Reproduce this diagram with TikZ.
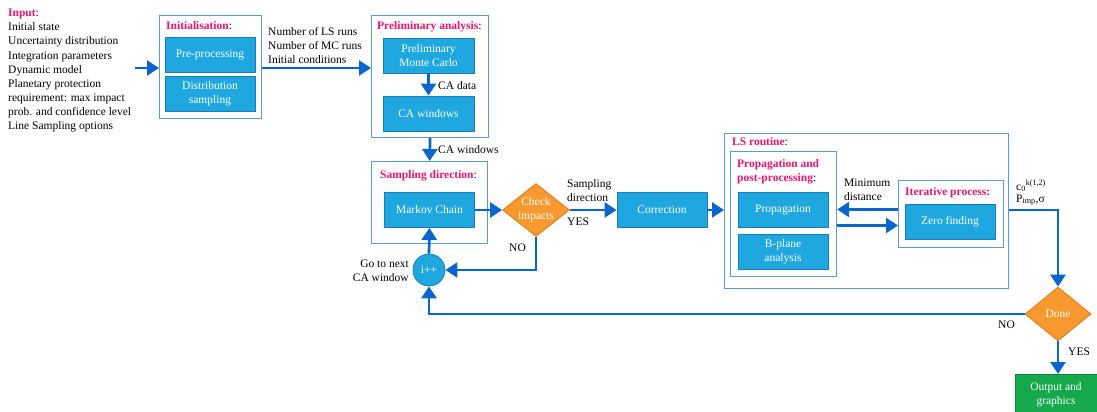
\documentclass[tikz,border=0pt]{standalone}
\usepackage{fontspec}
\setmainfont{Liberation Serif}
\usetikzlibrary{shapes.geometric,arrows.meta,calc}
\definecolor{boxc}{HTML}{1FA8E0}
\definecolor{boxd}{HTML}{1A7DB5}
\definecolor{grpc}{HTML}{5B9BD5}
\definecolor{arrc}{HTML}{0A66CC}
\definecolor{orc}{HTML}{F7992F}
\definecolor{ord}{HTML}{E07B1A}
\definecolor{grc}{HTML}{16A94C}
\definecolor{ttc}{HTML}{F0146E}
\newcommand{\ttl}[1]{\textcolor{ttc}{\textbf{#1}}}
\tikzset{
  fnt/.style={font=\fontsize{11.5}{14.1}\selectfont},
  txt/.style={fnt, inner sep=0pt, align=left},
  blk/.style={rectangle, fill=boxc, draw=boxd, line width=0.8pt, text=white,
    minimum width=90, minimum height=35, align=center, inner sep=1pt, fnt},
  grp/.style={rectangle, draw=grpc, line width=1.2pt, fill=white, inner sep=0pt, anchor=north west},
  dia/.style={diamond, fill=orc, draw=ord, line width=0.8pt, inner sep=0pt},
  arr/.style={draw=arrc, line width=2.7pt, -{Triangle[length=12pt,width=15pt]}},
}
\begin{document}
\begin{tikzpicture}[x=1pt,y=-1pt]
\useasboundingbox (0,0) rectangle (1097,412);
% input
\node[txt, anchor=north west] (input) at (8,9) {\ttl{Input}:\\Initial state\\Uncertainty distribution\\Integration parameters\\Dynamic model\\Planetary protection\\requirement: max impact\\prob. and confidence level\\Line Sampling options};
\coordinate (inA) at (135,68);
% initialisation
\node[grp, minimum width=102, minimum height=103] (init) at (159,15) {};
\node[txt, anchor=west] at (166,26) {\ttl{Initialisation}:};
\node[blk] (pre) at (210,55) {Pre-processing};
\node[blk] (dist) at (210,93.5) {Distribution\\sampling};
\node[txt, anchor=north west] (runs) at (268,27) {Number of LS runs\\Number of MC runs\\Initial conditions};
% preliminary
\node[grp, minimum width=117, minimum height=122] (prel) at (371,15) {};
\node[txt, anchor=west] at (377,27) {\ttl{Preliminary analysis}:};
\node[blk, minimum width=91] (pmc) at (428.5,55.5) {Preliminary\\Monte Carlo};
\node[blk, minimum width=91] (caw) at (428.5,113.5) {CA windows};
\node[txt, anchor=west] at (438,86) {CA data};
\node[txt, anchor=west] at (438,150) {CA windows};
% sampling direction
\node[grp, minimum width=116, minimum height=82] (samp) at (371,161) {};
\node[txt, anchor=west] at (380,176) {\ttl{Sampling direction}:};
\node[blk] (mc) at (429.5,210) {Markov Chain};
\node[dia, minimum width=67, minimum height=53] (chk) at (536,210) {};
\node[txt, text=white, align=center] at (chk) {Check\\impacts};
\node[txt, anchor=west] at (567,191) {Sampling\\direction};
\node[txt, anchor=west] at (567,222) {YES};
\node[txt, anchor=west] at (509,248) {NO};
\node[circle, fill=boxc, draw=boxd, line width=0.8pt, minimum size=32, inner sep=0pt, text=white, fnt] (ipp) at (429,270) {i++};
\node[txt, align=right, anchor=east] at (409,271) {Go to next\\CA window};
\node[blk] (corr) at (662,210) {Correction};
% LS routine
\node[grp, minimum width=284, minimum height=155] (ls) at (724,133) {};
\node[txt, anchor=west] at (732,142) {\ttl{LS routine}:};
\node[grp, minimum width=106, minimum height=125] (ppp) at (730,151) {};
\node[txt, anchor=north west] at (737,159) {\ttl{Propagation and}\\\ttl{post-processing}:};
\node[blk] (prop) at (783,209.5) {Propagation};
\node[blk] (bpl) at (783,251.5) {B-plane\\analysis};
\node[grp, minimum width=105, minimum height=67] (iter) at (898,180) {};
\node[txt, anchor=west] at (905,193) {\ttl{Iterative process:}};
\node[blk] (zero) at (950,221.5) {Zero finding};
\node[txt, anchor=west] at (844,189.5) {Minimum\\distance};
\node[txt, anchor=west] at (1016,186) {c\textsubscript{0}\textsuperscript{k(1,2)}};
\node[txt, anchor=west] at (1016,200) {P\textsubscript{imp},σ};
% done
\node[dia, minimum width=66, minimum height=54] (done) at (1058,314) {};
\node[txt, text=white] at (done) {Done};
\node[txt, anchor=west] at (998,325) {NO};
\node[txt, anchor=west] at (1068,352) {YES};
\node[rectangle, fill=grc, draw=grc!80!black, line width=0.8pt, text=white, minimum width=82, minimum height=40, align=center, fnt, anchor=north] (out) at (1056,374) {Output and\\graphics};
% arrows
\draw[arr] (inA) -- (inA -| init.west);
\draw[arr] (init.east |- inA) -- (inA -| prel.west);
\draw[arr] (pmc.south) -- (caw.north);
\draw[arr] (prel.south) -- (samp.north);
\draw[arr] (mc.east) -- (chk.west);
\draw[arr] (chk.east) -- (corr.west);
\draw[arr] (corr.east) -- (corr.east -| ls.west);
\draw[arr] (iter.west |- prop.east) -- (ppp.east |- prop.east);
\draw[arr] ($(ppp.east |- prop.east)+(0,16)$) -- ($(iter.west |- prop.east)+(0,16)$);
\draw[arr] (ls.east |- corr.east) -| (done.north);
\draw[arr] (done.south) -- (done.south |- out.north);
\draw[arr] (done.west) -| (ipp.south);
\draw[arr] (chk.south) |- (ipp.east);
\draw[arr] (ipp.north) -- (mc.south);
\end{tikzpicture}
\end{document}
